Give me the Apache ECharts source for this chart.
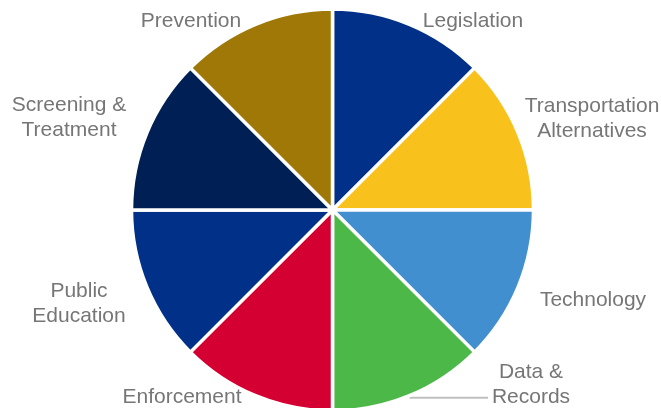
<!DOCTYPE html>
<html>
<head>
<meta charset="utf-8">
<script src="https://cdn.jsdelivr.net/npm/echarts@6/dist/echarts.min.js"></script>
<style>
  html, body { margin: 0; padding: 0; background: #fff; }
  #chart { width: 661px; height: 408px; }
</style>
</head>
<body>
<div id="chart"></div>
<script>
// categories, clockwise from 12 o'clock
var categories = ['Legislation', 'Transportation\nAlternatives', 'Technology', 'Data &\nRecords',
  'Enforcement', 'Public\nEducation', 'Screening &\nTreatment', 'Prevention'];
var values = [1, 1, 1, 1, 1, 1, 1, 1];
var colors = ['#003087', '#F8C11C', '#428FD0', '#4CB848', '#D50032', '#003087', '#002055', '#A07807'];

// label centers (px)
var labelPos = [[473, 21], [592, 119], [593, 300], [531, 385], [182, 397], [79, 304], [69, 118], [191, 21]];

var myChart = echarts.init(document.getElementById('chart'));
myChart.setOption({
  animation: false,
  backgroundColor: '#fff',
  series: [{
    type: 'pie',
    center: [332.5, 210],
    radius: [0, 201],
    startAngle: 90,
    clockwise: true,
    data: categories.map(function (c, i) {
      return {
        name: c,
        value: values[i],
        itemStyle: { color: colors[i] },
        labelLine: { show: i === 3 }
      };
    }),
    itemStyle: { borderColor: '#fff', borderWidth: 3.5 },
    label: {
      show: true,
      position: 'outside',
      color: '#767676',
      fontFamily: 'Liberation Sans, Arial, sans-serif',
      fontSize: 21,
      lineHeight: 25,
      align: 'center',
      overflow: 'none',
      formatter: '{b}'
    },
    labelLine: {
      lineStyle: { color: '#BFBFBF', width: 2 }
    },
    labelLayout: function (params) {
      var p = labelPos[params.dataIndex];
      var res = { x: p[0], y: p[1], align: 'center', verticalAlign: 'middle' };
      if (params.dataIndex === 3 && params.labelLinePoints) {
        // 从扇区边缘水平拉到文字左侧
        var a = params.labelLinePoints[0];
        res.labelLinePoints = [[a[0], a[1] + 2], [488, a[1] + 2]];
      }
      return res;
    },
    emphasis: { disabled: true }
  }]
});
</script>
</body>
</html>
